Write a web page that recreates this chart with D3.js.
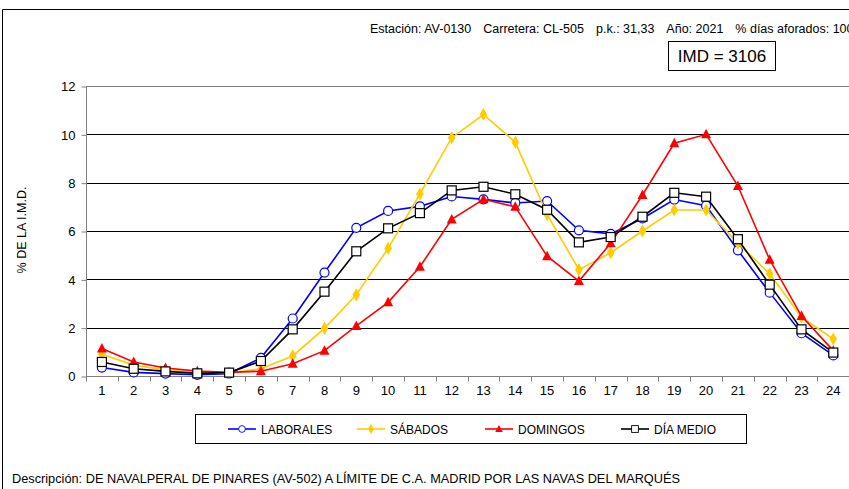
<!DOCTYPE html>
<html>
<head>
<meta charset="utf-8">
<script src="https://cdn.jsdelivr.net/npm/d3@7"></script>
<style>
  body { margin: 0; background: #fff; }
  svg { display: block; font-family: Arial, "Liberation Sans", sans-serif; }
</style>
</head>
<body>
<svg id="chart" width="849" height="489"></svg>
<script>
const hours = d3.range(1, 25);
const yTicks = [0, 2, 4, 6, 8, 10, 12];

const laborales = [0.35, 0.15, 0.1, 0.05, 0.1, 0.75, 2.38, 4.28, 6.13, 6.83, 7.02, 7.43, 7.31, 7.16, 7.24, 6.03,
  5.88, 6.52, 7.3, 7.05, 5.2, 3.45, 1.77, 0.85];
const sabados = [0.9, 0.45, 0.25, 0.15, 0.12, 0.3, 0.83, 1.97, 3.36, 5.28, 7.53, 9.86, 10.82, 9.67, 6.69, 4.4,
  5.1, 6.0, 6.87, 6.87, 5.5, 4.23, 2.43, 1.53];
const domingos = [1.14, 0.58, 0.33, 0.2, 0.15, 0.2, 0.51, 1.05, 2.07, 3.05, 4.52, 6.48, 7.31, 7.0, 4.96, 3.93,
  5.49, 7.49, 9.63, 10.0, 7.86, 4.81, 2.48, 1.05];
const diaMedio = [0.58, 0.3, 0.19, 0.11, 0.14, 0.62, 1.93, 3.49, 5.16, 6.11, 6.74, 7.68, 7.83, 7.52, 6.88, 5.53,
  5.75, 6.59, 7.58, 7.42, 5.66, 3.78, 1.93, 0.97];

const header = ["Estación: AV-0130", "Carretera: CL-505", "p.k.: 31,33", "Año: 2021", "% días aforados: 100"];

const series = [
  {name: "LABORALES", values: laborales, color: "#0000ff", marker: "circle"},
  {name: "SÁBADOS", values: sabados, color: "#ffcc00", marker: "diamond"},
  {name: "DOMINGOS", values: domingos, color: "#ff0000", marker: "triangle"},
  {name: "DÍA MEDIO", values: diaMedio, color: "#000000", marker: "square"}
];

const svg = d3.select("#chart");

// outer frame (only left and top visible in the crop)
svg.append("path")
  .attr("d", "M2.5,489 V9.5 H849")
  .attr("fill", "none")
  .attr("stroke", "#000");

const plot = {left: 86, right: 849, top: 86, bottom: 376};

const x = d3.scaleBand()
  .domain(hours)
  .range([plot.left, plot.left + 24 * 31.8]);

const y = d3.scaleLinear()
  .domain([0, 12])
  .range([plot.bottom, plot.top]);

// gridlines
svg.append("g")
  .selectAll("line")
  .data(yTicks.filter(d => d > 0))
  .join("line")
    .attr("x1", plot.left)
    .attr("x2", plot.right)
    .attr("y1", d => Math.round(y(d)) + 0.5)
    .attr("y2", d => Math.round(y(d)) + 0.5)
    .attr("stroke", d => d === 12 ? "#808080" : "#000")
    .attr("stroke-width", 1);

// y axis
const yAxis = svg.append("g")
  .attr("transform", `translate(${plot.left + 0.5},0.5)`)
  .call(d3.axisLeft(y).tickValues(yTicks).tickSize(5).tickPadding(6));
yAxis.select(".domain").attr("stroke", "#808080").attr("d", `M0,${plot.top}V${plot.bottom}`);
yAxis.selectAll(".tick line").attr("stroke", "#808080");
yAxis.selectAll("text").attr("font-size", 13).attr("font-family", "Arial, 'Liberation Sans'").attr("fill", "#000");

// x axis
const xAxis = svg.append("g")
  .attr("transform", `translate(0,${Math.round(plot.bottom) + 0.5})`)
  .call(d3.axisBottom(x).tickSize(0).tickPadding(9));
xAxis.select(".domain").attr("stroke", "#808080").attr("d", `M${plot.left},0H${plot.right}`);
xAxis.selectAll("text").attr("font-size", 13).attr("font-family", "Arial, 'Liberation Sans'").attr("fill", "#000");
xAxis.selectAll(".sep")
  .data(hours)
  .join("line")
    .attr("class", "sep")
    .attr("x1", d => Math.round(x(d)) + 0.5)
    .attr("x2", d => Math.round(x(d)) + 0.5)
    .attr("y1", 0)
    .attr("y2", 5)
    .attr("stroke", "#808080");

// y label
svg.append("text")
  .attr("transform", "translate(26,230) rotate(-90)")
  .attr("text-anchor", "middle")
  .attr("font-size", 12.5)
  .text("% DE LA I.M.D.");

const cx = d => x(d) + x.bandwidth() / 2;

function drawMarker(sel, s) {
  if (s.marker === "circle") {
    sel.append("circle").attr("r", 4.5).attr("fill", "#fff").attr("stroke", s.color).attr("stroke-width", 1.2);
  } else if (s.marker === "diamond") {
    sel.append("path").attr("d", d3.symbol(d3.symbolDiamond, 50)()).attr("fill", s.color);
  } else if (s.marker === "triangle") {
    sel.append("path").attr("d", "M0,-5.5L5,4L-5,4Z").attr("fill", s.color);
  } else {
    sel.append("rect").attr("x", -4.5).attr("y", -4.5).attr("width", 9).attr("height", 9)
      .attr("fill", "#fff").attr("stroke", "#000").attr("stroke-width", 1.2);
  }
}

const line = d3.line()
  .x((d, i) => cx(hours[i]))
  .y(d => y(d));

series.forEach(s => {
  const g = svg.append("g");
  g.append("path")
    .attr("d", line(s.values))
    .attr("fill", "none")
    .attr("stroke", s.color)
    .attr("stroke-width", 1.6);
  g.selectAll("g")
    .data(s.values)
    .join("g")
      .attr("transform", (d, i) => `translate(${cx(hours[i])},${y(d)})`)
      .each(function() { drawMarker(d3.select(this), s); });
});

// header: pieces laid out left to right with an even gap
let hx = 370;
svg.append("g")
  .selectAll("text")
  .data(header)
  .join("text")
    .attr("y", 33)
    .attr("font-size", 12.5)
    .text(d => d)
    .each(function() {
      d3.select(this).attr("x", hx);
      hx += this.getComputedTextLength() + 12;
    });

svg.append("rect")
  .attr("x", 668.5).attr("y", 41.5).attr("width", 107).attr("height", 29)
  .attr("fill", "#fff").attr("stroke", "#000");
svg.append("text")
  .attr("x", 722).attr("y", 62)
  .attr("text-anchor", "middle")
  .attr("font-size", 17)
  .text("IMD = 3106");

// legend
svg.append("rect")
  .attr("x", 195.5).attr("y", 414.5).attr("width", 551).attr("height", 29)
  .attr("fill", "#fff").attr("stroke", "#000");
const legendX = [228, 357, 485, 621];
series.forEach((s, i) => {
  const g = svg.append("g").attr("transform", `translate(${legendX[i]},429)`);
  g.append("line").attr("x1", 0).attr("x2", 28).attr("stroke", s.color).attr("stroke-width", 1.6);
  const m = g.append("g").attr("transform", "translate(14,0) scale(0.75)");
  drawMarker(m, s);
  g.append("text").attr("x", 33).attr("y", 4.5).attr("font-size", 12).text(s.name);
});

// description
svg.append("text")
  .attr("x", 12)
  .attr("y", 483)
  .attr("font-size", 12.5)
  .attr("textLength", 668)
  .attr("lengthAdjust", "spacingAndGlyphs")
  .text("Descripción: DE NAVALPERAL DE PINARES (AV-502) A LÍMITE DE C.A. MADRID POR LAS NAVAS DEL MARQUÉS");
</script>
</body>
</html>
